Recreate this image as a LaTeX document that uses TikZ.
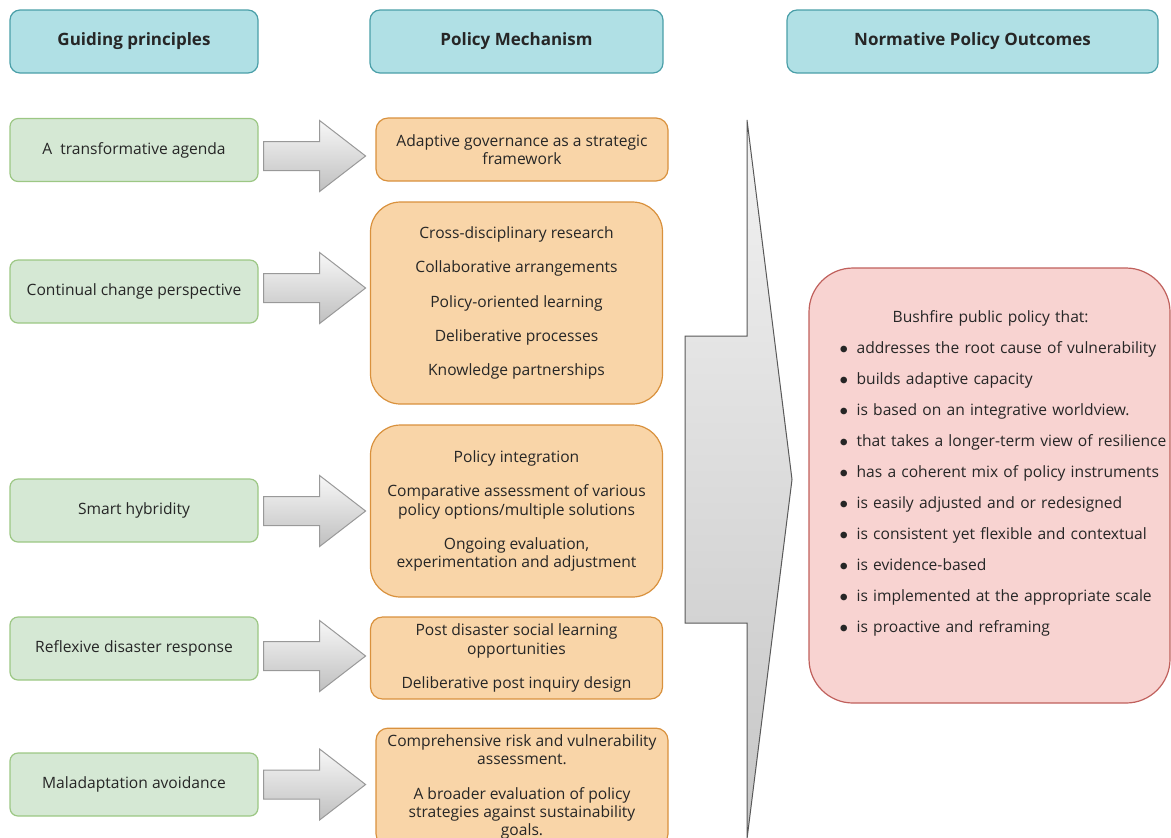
\documentclass[tikz,border=0pt]{standalone}
\usepackage{fontspec}
\setmainfont{Open Sans}
\usetikzlibrary{calc}
\definecolor{headfill}{HTML}{B0E0E5}
\definecolor{headline}{HTML}{4A9FA8}
\definecolor{greenfill}{HTML}{D5E8D4}
\definecolor{greenline}{HTML}{9CC784}
\definecolor{orangefill}{HTML}{F9D5A8}
\definecolor{orangeline}{HTML}{D9913D}
\definecolor{pinkfill}{HTML}{F8D3D1}
\definecolor{pinkline}{HTML}{C0605C}
\newcommand{\bul}{\makebox[8.5pt][l]{$\bullet$}}
\begin{document}
\begin{tikzpicture}[x=0.5pt, y=-0.5pt,
		every node/.style={font=\fontsize{7.8}{9.1}\selectfont, text=black!85, line width=0.6pt},
		header/.style={draw=headline, fill=headfill, rounded corners=5pt, minimum height=31.5pt, font=\fontsize{8.5}{10}\selectfont\bfseries},
		principle/.style={draw=greenline, fill=greenfill, rounded corners=4pt, minimum width=124pt, minimum height=31.5pt},
		mechanism/.style={draw=orangeline, fill=orangefill, rounded corners=6pt, align=center, minimum width=146pt},
		outcome/.style={draw=pinkline, fill=pinkfill, rounded corners=22pt, minimum width=180.5pt, minimum height=217.5pt},
		smallarrow/.style={draw=gray!80, line width=0.5pt, top color=gray!6, bottom color=gray!50},
		bigarrow/.style={draw=black!65, line width=0.5pt, top color=gray!10, bottom color=gray!45}]
			\useasboundingbox (0,0) rectangle (1171,837);

			\node[header, minimum width=124pt] (guiding) at (134,41.5) {Guiding principles};
			\node[header, minimum width=146.5pt] (mechanismhead) at (516.5,41.5) {Policy Mechanism};
			\node[header, minimum width=185.5pt] (outcomehead) at (972.5,41.5) {Normative Policy Outcomes};

			\node[principle] (trans) at (134,150) {A~~transformative agenda};
			\node[principle] (change) at (134,291.5) {Continual change perspective};
			\node[principle] (hybrid) at (134,510.5) {Smart hybridity};
			\node[principle] (reflex) at (134,648.5) {Reflexive disaster response};
			\node[principle] (malad) at (134,784.5) {Maladaptation avoidance};

			\node[mechanism, minimum height=31.5pt] (adaptive) at (522,149.5) {Adaptive governance as a strategic\\framework};
			\node[mechanism, rounded corners=15pt, minimum height=101pt] (research) at (516.5,303) {Cross-disciplinary research\\[8pt]Collaborative arrangements\\[8pt]Policy-oriented learning\\[8pt]Deliberative processes\\[8pt]Knowledge partnerships};
			\node[mechanism, rounded corners=15pt, minimum height=86pt] (integration) at (516.5,511) {Policy integration\\[8pt]Comparative assessment of various\\policy options/multiple solutions\\[8pt]Ongoing evaluation,\\experimentation and adjustment};
			\node[mechanism, minimum height=41pt] (postdisaster) at (516.5,658) {Post disaster social learning\\opportunities\\[8pt]Deliberative post inquiry design};
			\node[mechanism, minimum height=58pt] (riskassess) at (522,787) {Comprehensive risk and vulnerability\\assessment.\\[8pt]A broader evaluation of policy\\strategies against sustainability\\goals.};

			\foreach \src/\dy in {trans/6, change/-3.5, hybrid/0.5, reflex/7.5, malad/0}
				\path[smallarrow] ($(\src.east)+(5,\dy)$) ++(0,-14.5) -- ++(56,0) -- ++(0,-21) -- ++(46,35.5) -- ++(-46,35.5) -- ++(0,-21) -- ++(-56,0) -- cycle;

			\path[bigarrow] (685,336) -- (747,336) -- (747,120) -- (792,479.5) -- (747,839) -- (747,623) -- (685,623) -- cycle;

			\node[outcome] (outcomes) at (989.5,485.5) {};
			\node[anchor=north west, inner sep=0pt, text width=170pt, align=left, font=\fontsize{7.8}{15.5}\selectfont] (outcometext) at (839,310) {\makebox[151pt][c]{Bushfire public policy that:}\\
				\bul addresses the root cause of vulnerability\\
				\bul builds adaptive capacity\\
				\bul is based on an integrative worldview.\\
				\bul that takes a longer-term view of resilience\\
				\bul has a coherent mix of policy instruments\\
				\bul is easily adjusted and or redesigned\\
				\bul is consistent yet flexible and contextual\\
				\bul is evidence-based\\
				\bul is implemented at the appropriate scale\\
				\bul is proactive and reframing};
		\end{tikzpicture}
\end{document}
